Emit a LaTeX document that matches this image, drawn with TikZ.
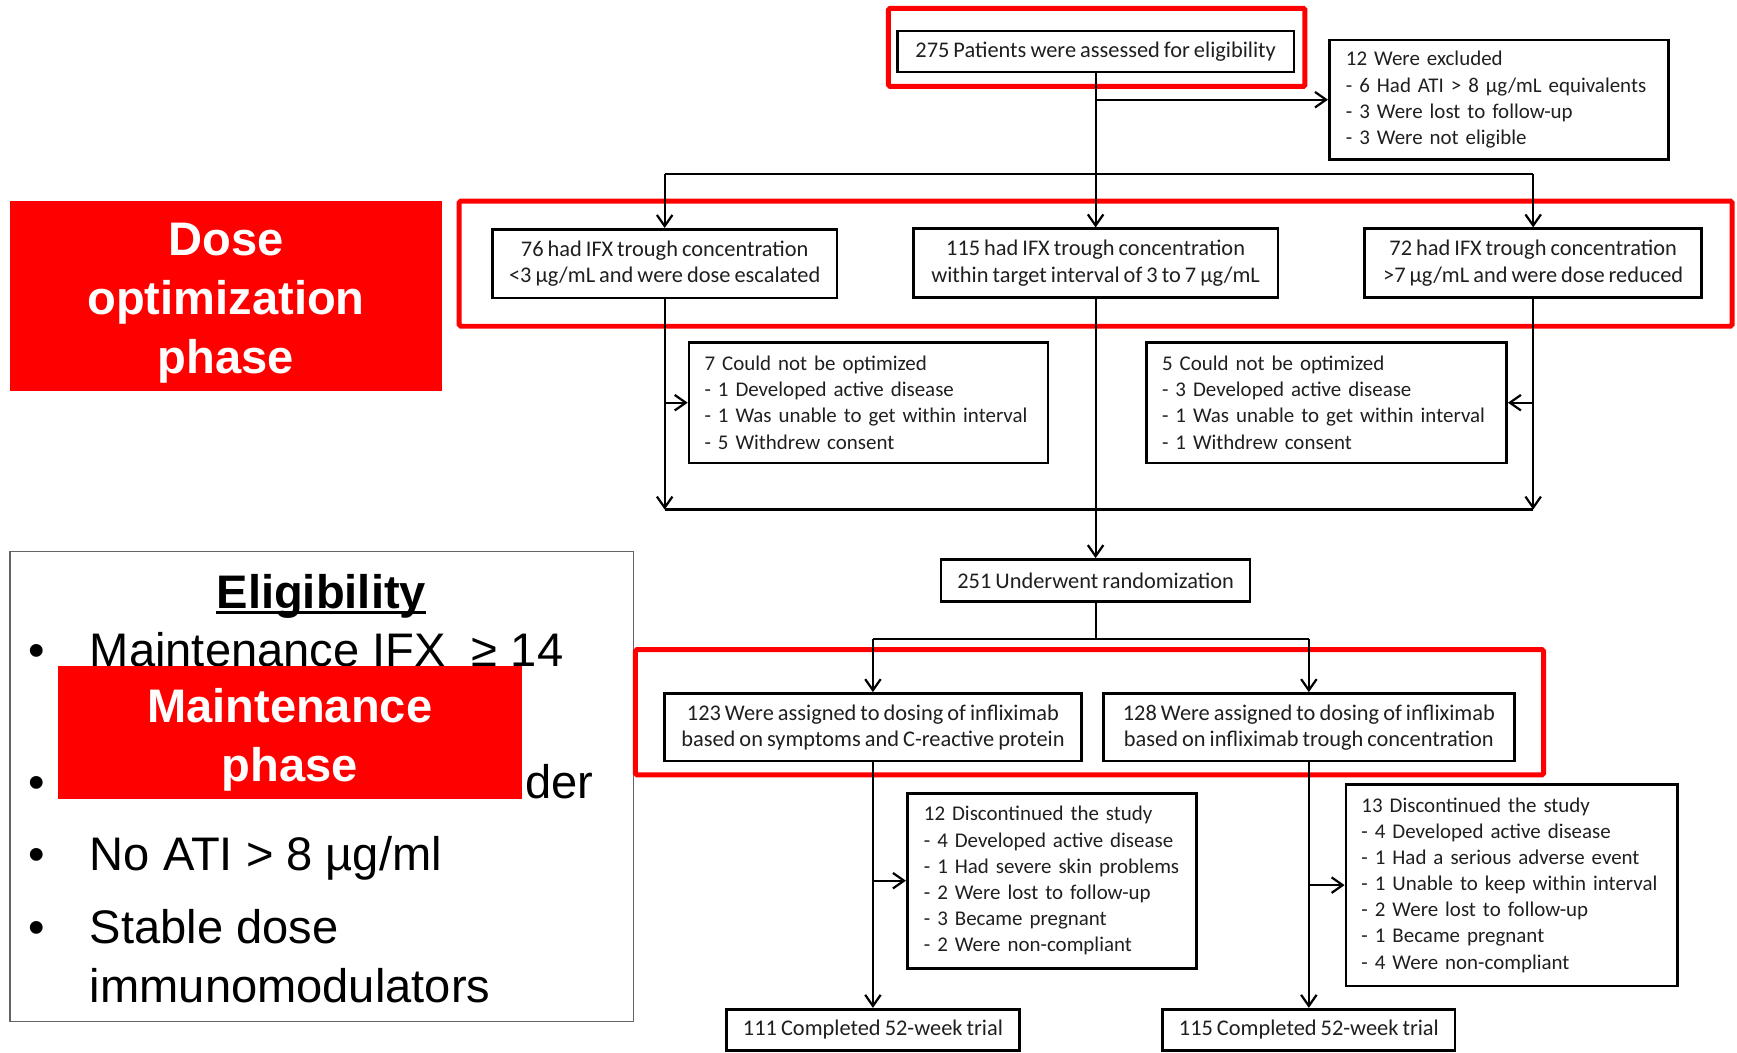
\documentclass[tikz,border=0pt]{standalone}
\usepackage{fontspec}
\setmainfont{Carlito}[WordSpace=0.8]
\newfontfamily\arialfont{Liberation Sans}
\usetikzlibrary{arrows.meta,positioning}
\hyphenpenalty=10000

\definecolor{phasered}{RGB}{255,0,0}
\definecolor{framegray}{RGB}{100,100,100}

\tikzset{
  flowbox/.style={draw=black, line width=2.4pt, fill=white, inner sep=0pt,
    text=black!88},
  centerbox/.style 2 args={flowbox, align=center, minimum width=#1pt, minimum height=#2pt,
    font=\fontsize{20.2}{23.6}\selectfont},
  listbox/.style n args={3}{flowbox, align=left, inner xsep=#3pt,
    text width=#1pt-2*#3pt, minimum height=#2pt, font=\fontsize{18.9}{23.6}\selectfont},
  link/.style={draw=black, line width=2pt},
  arrow/.style={link, -{Straight Barb[length=10pt,width=14pt]}},
  phaseframe/.style={draw=phasered, line width=4.5pt, rounded corners=1.5pt},
  phasebox/.style 2 args={fill=phasered, inner sep=0pt,
    minimum width=#1pt, minimum height=#2pt},
  phasetext/.style={text=white, align=center, inner sep=0pt,
    font=\arialfont\bfseries\fontsize{42.5}{53}\selectfont},
  bigtext/.style={inner sep=0pt, font=\arialfont\fontsize{42.5}{53}\selectfont}
}

\begin{document}
\begin{tikzpicture}[x=1pt, y=-1pt]
  \useasboundingbox (0,0) rectangle (1568,950);

  % eligibility panel (partly hidden by the phase label)
  \node[draw=framegray, line width=1.4pt, minimum width=563pt, minimum height=424pt,
    inner sep=0pt] (elig) at (290.5,710) {};
  \node[bigtext, font=\arialfont\bfseries\fontsize{42.5}{53}\selectfont, anchor=base]
    (eligtitle) at (290,549) {Eligibility};
  \draw[line width=2.6pt] ([yshift=-4pt]eligtitle.base west) -- ([yshift=-4pt]eligtitle.base east);
  \foreach \ypos [count=\i] in {602,721,786,852}
    \node[bigtext, anchor=base] (bul\i) at (33,\ypos) {•};
  \foreach \ypos/\txt [count=\i] in {602/{Maintenance IFX~ ≥ 14},
      786/{No ATI > 8 µg/ml}, 852/{Stable dose}, 905/{immunomodulators}}
    \node[bigtext, anchor=base west] (item\i) at (81,\ypos) {\txt};
  \node[bigtext, anchor=base west] (itemtail) at (474,721) {der};

  % phase labels
  \node[phasebox={419}{120}] (maintlabel) at (261.5,661) {};
  \node[phasetext] (mainttext) at (261.5,668) {Maintenance\\phase};
  \node[phasebox={390}{172}] (doselabel) at (204,267) {};
  \node[phasetext] (dosetext) at (204,273.5) {Dose\\optimization\\phase};

  % red frames round the highlighted rows
  \draw[phaseframe] (802,7.5) rectangle (1178,78);
  \draw[phaseframe] (414.5,181.5) rectangle (1563.5,294.5);
  \draw[phaseframe] (573.5,586.5) rectangle (1393.5,699.5);

  % flow chart boxes
  \node[centerbox={358}{37}] (assess) at (989,46.5)
    {275 Patients were assessed for eligibility};
  \node[listbox={306}{108}{15}] (excl) at (1353,90)
    {12 Were excluded\\- 6 Had ATI > 8 µg/mL equivalents\\- 3 Were lost to follow-up\\- 3 Were not eligible};
  \node[centerbox={311}{62}] (escal) at (600,238)
    {76 had IFX trough concentration\\<3 µg/mL and were dose escalated};
  \node[centerbox={329}{62}] (target) at (989,237.5)
    {115 had IFX trough concentration\\within target interval of 3 to 7 µg/mL};
  \node[centerbox={304}{62}] (reduc) at (1384,237.5)
    {72 had IFX trough concentration\\>7 µg/mL and were dose reduced};
  \node[listbox={324}{109}{14}] (nooptA) at (784,363.5)
    {7 Could not be optimized\\- 1 Developed active disease\\- 1 Was unable to get within interval\\- 5 Withdrew consent};
  \node[listbox={325}{109}{14}] (nooptB) at (1197.5,363.5)
    {5 Could not be optimized\\- 3 Developed active disease\\- 1 Was unable to get within interval\\- 1 Withdrew consent};
  \node[centerbox={279}{38}] (rand) at (989,524) {251 Underwent randomization};
  \node[centerbox={376}{61}] (armA) at (788,656.5)
    {123 Were assigned to dosing of infliximab\\based on symptoms and C-reactive protein};
  \node[centerbox={371}{61}] (armB) at (1181.5,656.5)
    {128 Were assigned to dosing of infliximab\\based on infliximab trough concentration};
  \node[listbox={261}{158}{15}] (discA) at (949.5,795)
    {12 Discontinued the study\\- 4 Developed active disease\\- 1 Had severe skin problems\\- 2 Were lost to follow-up\\- 3 Became pregnant\\- 2 Were non-compliant};
  \node[listbox={299}{182}{14}] (discB) at (1364.5,799)
    {13 Discontinued the study\\- 4 Developed active disease\\- 1 Had a serious adverse event\\- 1 Unable to keep within interval\\- 2 Were lost to follow-up\\- 1 Became pregnant\\- 4 Were non-compliant};
  \node[centerbox={264}{37}] (doneA) at (788,929.5) {111 Completed 52-week trial};
  \node[centerbox={264}{37}] (doneB) at (1181.5,929.5) {115 Completed 52-week trial};

  % connectors
  \coordinate (splitA) at (989,157);
  \coordinate (merge) at (989,460);
  \coordinate (splitB) at (989,577);
  \draw[arrow] (assess.south) -- (target.north);
  \draw[arrow] (assess.south |- excl.west) -- (excl.west);
  \draw[link] (escal.north |- splitA) -- (reduc.north |- splitA);
  \foreach \dest in {escal,reduc}
    \draw[arrow] (\dest.north |- splitA) -- (\dest.north);
  \draw[arrow] (escal.south) -- (escal.south |- merge);
  \draw[arrow] (reduc.south) -- (reduc.south |- merge);
  \draw[arrow] (escal.south |- nooptA.west) -- (nooptA.west);
  \draw[arrow] (reduc.south |- nooptB.east) -- (nooptB.east);
  \draw[link] (escal.south |- merge) -- (reduc.south |- merge);
  \draw[arrow] (target.south) -- (rand.north);
  \draw[link] (rand.south) -- (splitB);
  \draw[link] (armA.north |- splitB) -- (armB.north |- splitB);
  \foreach \dest in {armA,armB}
    \draw[arrow] (\dest.north |- splitB) -- (\dest.north);
  \draw[arrow] (armA.south) -- (doneA.north);
  \draw[arrow] (armB.south) -- (doneB.north);
  \draw[arrow] (armA.south |- discA.west) -- (discA.west);
  \draw[arrow] (armB.south |- discB.west) -- (discB.west);
\end{tikzpicture}
\end{document}
